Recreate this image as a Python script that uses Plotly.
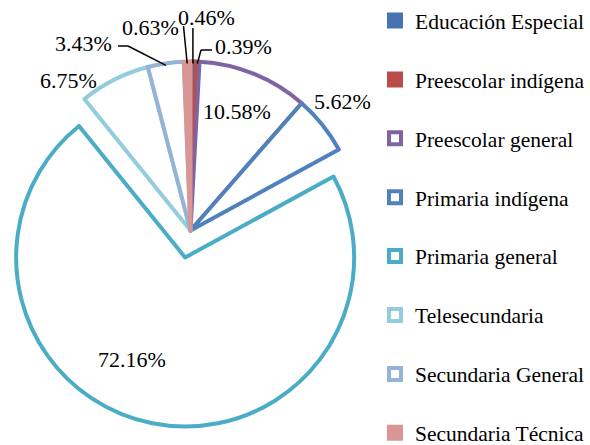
import math
import plotly.graph_objects as go

# Share of students by education level (%)
categories = [
    "Educación Especial",
    "Preescolar indígena",
    "Preescolar general",
    "Primaria indígena",
    "Primaria general",
    "Telesecundaria",
    "Secundaria General",
    "Secundaria Técnica",
]
shares = [0.46, 0.39, 10.58, 5.62, 72.16, 6.75, 3.43, 0.63]
exploded = "Primaria general"

line_colors = ["#4674B3", "#B84D4A", "#8064A2", "#4F81BD",
               "#4BACC6", "#93CDDD", "#95B3D7", "#D99694"]
fill_colors = ["#4674B3", "#B84D4A", "white", "white",
               "white", "white", "white", "#D99694"]

W, H = 590, 445
CX, CY = 190.5, 230.5   # pie centre in pixels (from top-left)
R = 169.0               # pie radius in pixels
EXPLODE = 27.5          # outward shift of the exploded slice, pixels
LW = 4
FONT = "'Liberation Serif', 'Times New Roman', Times, serif"
TOTAL = sum(shares)


def px(x):
    return x / W


def py(y):
    return 1 - y / H


def mid_angle(i):
    return (sum(shares[:i]) + shares[i] / 2) / TOTAL * 2 * math.pi


def edge_point(i, inset=2.0):
    """Point on the outer arc at the middle of slice i."""
    th = mid_angle(i)
    r = R - inset
    return CX + r * math.sin(th), CY - r * math.cos(th)


def domain_for(cx, cy, r):
    return dict(x=[px(cx - r), px(cx + r)], y=[py(cy + r), py(cy - r)])


def pie(domain, keep, showlegend):
    """Clockwise pie from 12 o'clock; slices not in `keep` stay invisible."""
    fills = [c if k else "rgba(0,0,0,0)" for c, k in zip(fill_colors, keep)]
    lines = [c if k else "rgba(0,0,0,0)" for c, k in zip(line_colors, keep)]
    widths = [LW if k else 0 for k in keep]
    return go.Pie(
        labels=categories, values=shares,
        sort=False, direction="clockwise", rotation=0,
        textinfo="none", hoverinfo="skip",
        marker=dict(colors=fills, line=dict(color=lines, width=widths)),
        domain=domain, showlegend=showlegend,
    )


ix = categories.index(exploded)
th = mid_angle(ix)
ex_cx = CX + EXPLODE * math.sin(th)
ex_cy = CY - EXPLODE * math.cos(th)

fig = go.Figure()
# legend entries (zero-radius pie carries the slice styles for the legend)
fig.add_trace(pie(dict(x=[px(CX), px(CX) + 1e-9], y=[py(CY), py(CY) + 1e-9]),
                  [True] * len(categories), True))
# the pie body
fig.add_trace(pie(domain_for(CX, CY, R),
                  [c != exploded for c in categories], False))
# the exploded slice
fig.add_trace(pie(domain_for(ex_cx, ex_cy, R),
                  [c == exploded for c in categories], False))

# label centres (px) and leader-line elbows
label_pos = {
    "Educación Especial": (206.5, 17),
    "Preescolar indígena": (243, 47),
    "Preescolar general": (236.5, 111),
    "Primaria indígena": (342, 102),
    "Primaria general": (132, 359),
    "Telesecundaria": (68.5, 80),
    "Secundaria General": (83, 43),
    "Secundaria Técnica": (150, 28),
}
leaders = {
    "Educación Especial": [("edge",), (None, 28)],
    "Preescolar indígena": [("edge",), (201, 50), (212, 50)],
    "Secundaria Técnica": [("edge",), (183.5, 26)],
    "Secundaria General": [("edge",), (128, 46), (118, 46)],
}

annotations = []
for cat, v in zip(categories, shares):
    x, y = label_pos[cat]
    annotations.append(dict(
        x=px(x), y=py(y), xref="paper", yref="paper",
        text=f"{v:.2f}%", showarrow=False,
        xanchor="center", yanchor="middle",
        font=dict(family=FONT, size=22, color="black"),
    ))

shapes = []
for i, cat in enumerate(categories):
    if cat not in leaders:
        continue
    ex, ey = edge_point(i)
    pts = []
    for p in leaders[cat]:
        if p == ("edge",):
            pts.append((ex, ey))
        elif p[0] is None:
            pts.append((ex, p[1]))
        else:
            pts.append(p)
    for (x0, y0), (x1, y1) in zip(pts[:-1], pts[1:]):
        shapes.append(dict(type="line", xref="paper", yref="paper",
                           x0=px(x0), y0=py(y0), x1=px(x1), y1=py(y1),
                           line=dict(color="black", width=1.5)))

fig.update_layout(
    width=W, height=H,
    margin=dict(l=0, r=0, t=0, b=0),
    paper_bgcolor="white",
    font=dict(family=FONT, size=21.5, color="black"),
    showlegend=True,
    legend=dict(x=px(375), y=py(5.5), xanchor="left", yanchor="top",
                valign="top", bgcolor="rgba(0,0,0,0)",
                font=dict(family=FONT, size=21.5, color="black")),
    annotations=annotations,
    shapes=shapes,
)
# two-line legend labels give the wide row spacing
fig.update_traces(labels=[c + "<br>\u00a0" for c in categories])

fig.write_html("out.html")
